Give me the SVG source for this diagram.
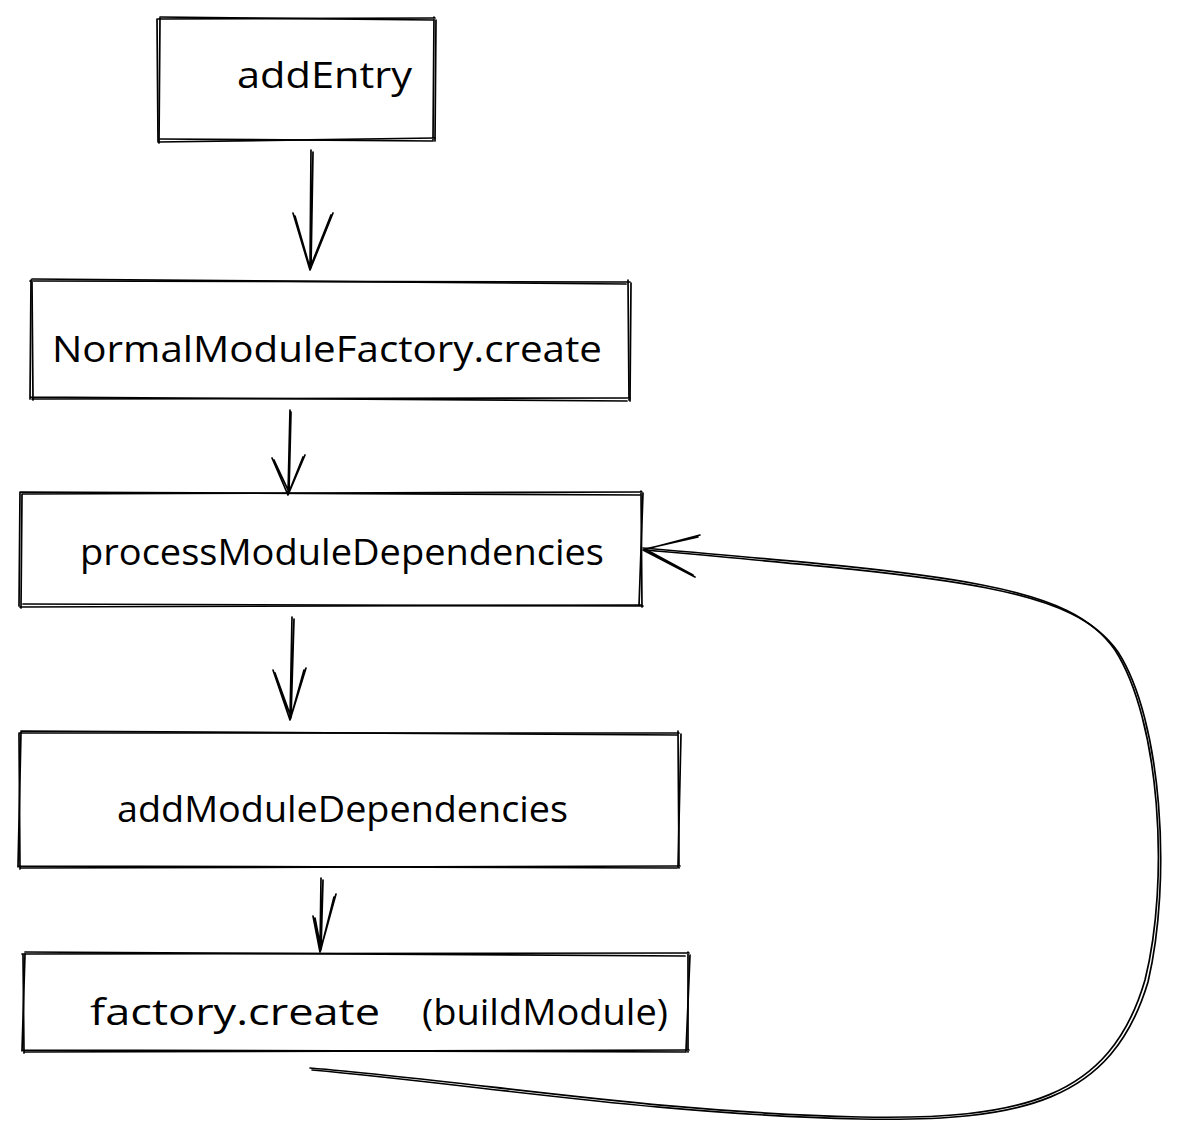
<svg xmlns="http://www.w3.org/2000/svg" width="1178" height="1142" viewBox="0 0 1178 1142">
<style>
.s{fill:none;stroke:#000;stroke-width:1.7;stroke-linecap:round;stroke-linejoin:round}
.t{font-family:"Open Sans","Liberation Sans",sans-serif;font-size:36px;fill:#000}
</style>
<rect width="1178" height="1142" fill="#fff"/>
<g id="n1">
<path class="s" d="M158 19 L435 18 M434 17 L433 140 M435 138 L158 142 M159 143 L160 18"/>
<path class="s" d="M160 17 L433 20 M436 20 L435 141 M433 141 L160 139 M158 141 L157 19"/>
<text class="t" x="237" y="88" textLength="175" lengthAdjust="spacingAndGlyphs">addEntry</text>
</g>
<g id="n2">
<path class="s" d="M30 281 L630 282 M628 280 L629 400 M630 398 L32 399 M33 400 L32 282"/>
<path class="s" d="M32 279 L626 284 M631 283 L630 401 M627 401 L30 397 M30 399 L31 280"/>
<text class="t" x="52" y="362" textLength="550" lengthAdjust="spacingAndGlyphs">NormalModuleFactory.create</text>
</g>
<g id="n3">
<path class="s" d="M22 494 L642 492 M641 491 L642 607 M641 605 L20 607 M21 608 L22 494"/>
<path class="s" d="M20 492 L640 495 M643 493 L639 606 M643 606 L23 604 M19 606 L20 492"/>
<text class="t" x="80" y="565" textLength="524" lengthAdjust="spacingAndGlyphs">processModuleDependencies</text>
</g>
<g id="n4">
<path class="s" d="M19 733 L679 733 M678 731 L679 868 M680 866 L20 868 M20 869 L19 734"/>
<path class="s" d="M21 731 L677 735 M681 734 L678 867 M677 868 L18 866 M18 867 L21 732"/>
<text class="t" x="117" y="822" textLength="451" lengthAdjust="spacingAndGlyphs">addModuleDependencies</text>
</g>
<g id="n5">
<path class="s" d="M22 954 L689 953 M688 952 L688 1052 M689 1050 L24 1052 M24 1053 L23 955"/>
<path class="s" d="M25 952 L685 956 M690 955 L686 1051 M686 1052 L22 1050 M22 1051 L25 954"/>
<text class="t" x="90" y="1025" textLength="290" lengthAdjust="spacingAndGlyphs">factory.create</text>
<text class="t" x="422" y="1025" textLength="246" lengthAdjust="spacingAndGlyphs">(buildModule)</text>
</g>
<g id="connectors">
<path class="s" d="M311 150 L310 270 M313 152 L311 268 M293 213 L310 270 L333 213 M295 216 L310 268 L331 215"/>
<path class="s" d="M290 410 L288 495 M291 412 L289 492 M272 458 L288 495 L305 455 M274 460 L289 492 L303 457"/>
<path class="s" d="M292 617 L290 720 M294 619 L291 718 M273 670 L290 720 L306 668 M275 673 L291 717 L304 670"/>
<path class="s" d="M321 878 L320 952 M323 880 L321 950 M313 916 L320 952 L336 894 M315 918 L321 949 L334 897"/>
<path class="s" d="M310 1068 C480 1082 650 1112 860 1117 C1020 1120 1110 1100 1145 980 C1170 880 1160 720 1115 650 C1070 585 960 575 643 548"/>
<path class="s" d="M312 1070 C480 1085 650 1114 860 1119 C1022 1122 1112 1102 1148 982 C1172 880 1162 720 1118 652 C1072 587 960 578 645 550"/>
<path class="s" d="M700 535 L643 550 L695 577 M698 537 L645 549 L693 575"/>
</g>
</svg>
